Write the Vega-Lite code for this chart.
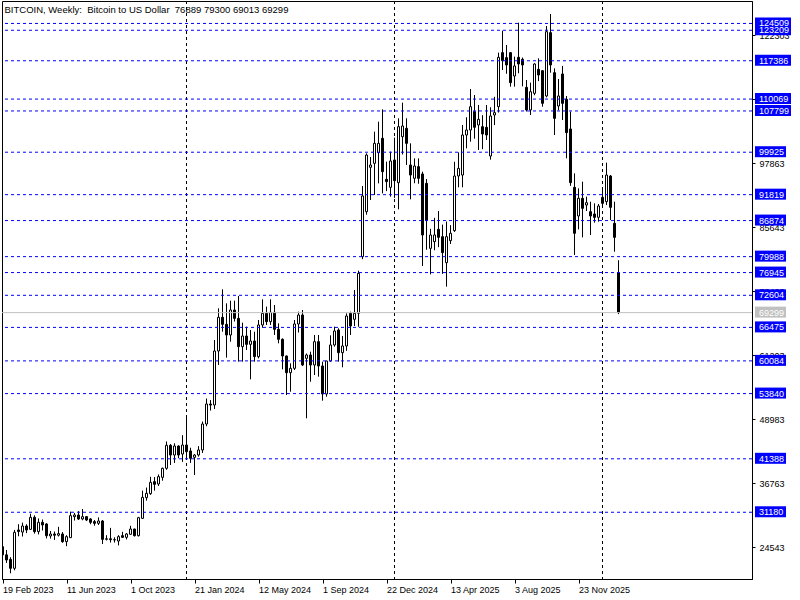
{
"$schema":"https://vega.github.io/schema/vega-lite/v6.json",
"width":750,"height":578,
"autosize":{"type":"none"},
"padding":{"left":2,"top":1,"right":48,"bottom":21},
"background":"white",
"title":{"text":"BITCOIN, Weekly:\u00a0 Bitcoin to US Dollar\u00a0 76889 79300 69013 69299","anchor":"start","offset":-14,"dx":3,"fontSize":9.5,"font":"Liberation Sans","fontWeight":"normal","color":"black"},
"config":{"font":"Liberation Sans","view":{"stroke":"black","strokeWidth":1},"axis":{"grid":false,"domainColor":"black","tickColor":"black","labelColor":"black","labelFont":"Liberation Sans","labelFontSize":9,"title":null}},
"datasets":{
"candles":[
{"d":"2023-02-19","o":24600,"h":25200,"l":22900,"c":23050},
{"d":"2023-02-26","o":23050,"h":23980,"l":21500,"c":22070},
{"d":"2023-03-05","o":22190,"h":22600,"l":19520,"c":20480},
{"d":"2023-03-12","o":20480,"h":27800,"l":20100,"c":27350},
{"d":"2023-03-19","o":27800,"h":28900,"l":26600,"c":27500},
{"d":"2023-03-26","o":27400,"h":29200,"l":26550,"c":28560},
{"d":"2023-04-02","o":28560,"h":28900,"l":27200,"c":27800},
{"d":"2023-04-09","o":27920,"h":30900,"l":27800,"c":30210},
{"d":"2023-04-16","o":30210,"h":30600,"l":27100,"c":27480},
{"d":"2023-04-23","o":27480,"h":30000,"l":26950,"c":29260},
{"d":"2023-04-30","o":29260,"h":29800,"l":27700,"c":28750},
{"d":"2023-05-07","o":28940,"h":29100,"l":26200,"c":26710},
{"d":"2023-05-14","o":26650,"h":27600,"l":26150,"c":27030},
{"d":"2023-05-21","o":27030,"h":27500,"l":25900,"c":26800},
{"d":"2023-05-28","o":26800,"h":28400,"l":26550,"c":27100},
{"d":"2023-06-04","o":27030,"h":27400,"l":25350,"c":25570},
{"d":"2023-06-11","o":25570,"h":26800,"l":24700,"c":26520},
{"d":"2023-06-18","o":26330,"h":31300,"l":26300,"c":30530},
{"d":"2023-06-25","o":30340,"h":31050,"l":29600,"c":30660},
{"d":"2023-07-02","o":30660,"h":31400,"l":29700,"c":29900},
{"d":"2023-07-09","o":29900,"h":31800,"l":29650,"c":30340},
{"d":"2023-07-16","o":30340,"h":30450,"l":29500,"c":29700},
{"d":"2023-07-23","o":29900,"h":30050,"l":28900,"c":29260},
{"d":"2023-07-30","o":29390,"h":29700,"l":28600,"c":29070},
{"d":"2023-08-06","o":29070,"h":30200,"l":28750,"c":29510},
{"d":"2023-08-13","o":29510,"h":29700,"l":25120,"c":26010},
{"d":"2023-08-20","o":26010,"h":26800,"l":25800,"c":26120},
{"d":"2023-08-27","o":26120,"h":28200,"l":25400,"c":25950},
{"d":"2023-09-03","o":25950,"h":26400,"l":25400,"c":25900},
{"d":"2023-09-10","o":25690,"h":26800,"l":24850,"c":26520},
{"d":"2023-09-17","o":26710,"h":27450,"l":26350,"c":26390},
{"d":"2023-09-24","o":26390,"h":27200,"l":26000,"c":27030},
{"d":"2023-10-01","o":26970,"h":28600,"l":26900,"c":27980},
{"d":"2023-10-08","o":27980,"h":28050,"l":26550,"c":26710},
{"d":"2023-10-15","o":26710,"h":30300,"l":26550,"c":30150},
{"d":"2023-10-22","o":30020,"h":35300,"l":29900,"c":34030},
{"d":"2023-10-29","o":33970,"h":35900,"l":33400,"c":34800},
{"d":"2023-11-05","o":34730,"h":37950,"l":34500,"c":36890},
{"d":"2023-11-12","o":37020,"h":37900,"l":35300,"c":36510},
{"d":"2023-11-19","o":36580,"h":38400,"l":36200,"c":37980},
{"d":"2023-11-26","o":37850,"h":39700,"l":37200,"c":39570},
{"d":"2023-12-03","o":39570,"h":44700,"l":39300,"c":43960},
{"d":"2023-12-10","o":43960,"h":44200,"l":40200,"c":42110},
{"d":"2023-12-17","o":42110,"h":44350,"l":40600,"c":43830},
{"d":"2023-12-24","o":43830,"h":43950,"l":41500,"c":42110},
{"d":"2023-12-31","o":42300,"h":45900,"l":40800,"c":44020},
{"d":"2024-01-07","o":44020,"h":49500,"l":41500,"c":42750},
{"d":"2024-01-14","o":42880,"h":43500,"l":40600,"c":41480},
{"d":"2024-01-21","o":41670,"h":42300,"l":38300,"c":42110},
{"d":"2024-01-28","o":42110,"h":43800,"l":41800,"c":43070},
{"d":"2024-02-04","o":43070,"h":48500,"l":42500,"c":48030},
{"d":"2024-02-11","o":48030,"h":52900,"l":47600,"c":51850},
{"d":"2024-02-18","o":51850,"h":52600,"l":50600,"c":51650},
{"d":"2024-02-25","o":51660,"h":64070,"l":50900,"c":61970},
{"d":"2024-03-03","o":61970,"h":70120,"l":59300,"c":68400},
{"d":"2024-03-10","o":68400,"h":73750,"l":65660,"c":67060},
{"d":"2024-03-17","o":67060,"h":71070,"l":60700,"c":65030},
{"d":"2024-03-24","o":65030,"h":71580,"l":63750,"c":69800},
{"d":"2024-03-31","o":69800,"h":71580,"l":67600,"c":68200},
{"d":"2024-04-07","o":68200,"h":72470,"l":59930,"c":62800},
{"d":"2024-04-14","o":62800,"h":67380,"l":59930,"c":64830},
{"d":"2024-04-21","o":64830,"h":66620,"l":62160,"c":63240},
{"d":"2024-04-28","o":63240,"h":65980,"l":56560,"c":63880},
{"d":"2024-05-05","o":63880,"h":65660,"l":59930,"c":60890},
{"d":"2024-05-12","o":60890,"h":67890,"l":60570,"c":66940},
{"d":"2024-05-19","o":66940,"h":71840,"l":66400,"c":69160},
{"d":"2024-05-26","o":69160,"h":70440,"l":66940,"c":67570},
{"d":"2024-06-02","o":67570,"h":71840,"l":66940,"c":69350},
{"d":"2024-06-09","o":69350,"h":70750,"l":65030,"c":66110},
{"d":"2024-06-16","o":66110,"h":67250,"l":63430,"c":64200},
{"d":"2024-06-23","o":64200,"h":64390,"l":58470,"c":61020},
{"d":"2024-06-30","o":61020,"h":61100,"l":53570,"c":57830},
{"d":"2024-07-07","o":57830,"h":59620,"l":54200,"c":58660},
{"d":"2024-07-14","o":58660,"h":67890,"l":58340,"c":67130},
{"d":"2024-07-21","o":67130,"h":69480,"l":65500,"c":68840},
{"d":"2024-07-28","o":68840,"h":69800,"l":59100,"c":59300},
{"d":"2024-08-04","o":60570,"h":61500,"l":49120,"c":61210},
{"d":"2024-08-11","o":61210,"h":61840,"l":56110,"c":59300},
{"d":"2024-08-18","o":59300,"h":65030,"l":57390,"c":63750},
{"d":"2024-08-25","o":63750,"h":65030,"l":57070,"c":59110},
{"d":"2024-09-01","o":59110,"h":59930,"l":52490,"c":53760},
{"d":"2024-09-08","o":53760,"h":60100,"l":53250,"c":60060},
{"d":"2024-09-15","o":60060,"h":64960,"l":59930,"c":63120},
{"d":"2024-09-22","o":63120,"h":66620,"l":62800,"c":65790},
{"d":"2024-09-29","o":65980,"h":66300,"l":59930,"c":61650},
{"d":"2024-10-06","o":61650,"h":64840,"l":58850,"c":62930},
{"d":"2024-10-13","o":62930,"h":69160,"l":62000,"c":68650},
{"d":"2024-10-20","o":69160,"h":69480,"l":65030,"c":66740},
{"d":"2024-10-27","o":68020,"h":73620,"l":66740,"c":69160},
{"d":"2024-11-03","o":69170,"h":77300,"l":66600,"c":76800},
{"d":"2024-11-10","o":79980,"h":93470,"l":79500,"c":91570},
{"d":"2024-11-17","o":88570,"h":99700,"l":88000,"c":99390},
{"d":"2024-11-24","o":97040,"h":99000,"l":90800,"c":97480},
{"d":"2024-12-01","o":97800,"h":103850,"l":91760,"c":101620},
{"d":"2024-12-08","o":99840,"h":105750,"l":93980,"c":101620},
{"d":"2024-12-15","o":102580,"h":108110,"l":92070,"c":96210},
{"d":"2024-12-22","o":94750,"h":98120,"l":92500,"c":94300},
{"d":"2024-12-29","o":93220,"h":100030,"l":91440,"c":98250},
{"d":"2025-01-05","o":98440,"h":102700,"l":91200,"c":94490},
{"d":"2025-01-12","o":94110,"h":106400,"l":89020,"c":104800},
{"d":"2025-01-19","o":102890,"h":109380,"l":99500,"c":104930},
{"d":"2025-01-26","o":104480,"h":106400,"l":97480,"c":101620},
{"d":"2025-02-02","o":97480,"h":101620,"l":90930,"c":95570},
{"d":"2025-02-09","o":94940,"h":98750,"l":94000,"c":97290},
{"d":"2025-02-16","o":97170,"h":98750,"l":93900,"c":94940},
{"d":"2025-02-23","o":95770,"h":96200,"l":78200,"c":84120},
{"d":"2025-03-02","o":93980,"h":94800,"l":81300,"c":86980},
{"d":"2025-03-09","o":81570,"h":85300,"l":76600,"c":84120},
{"d":"2025-03-16","o":82850,"h":87400,"l":81200,"c":84120},
{"d":"2025-03-23","o":85200,"h":88700,"l":81800,"c":83670},
{"d":"2025-03-30","o":83800,"h":86100,"l":76700,"c":80750},
{"d":"2025-04-06","o":78840,"h":86700,"l":74250,"c":83800},
{"d":"2025-04-13","o":83040,"h":86000,"l":82400,"c":84440},
{"d":"2025-04-20","o":84950,"h":98100,"l":84700,"c":95380},
{"d":"2025-04-27","o":95380,"h":99900,"l":93220,"c":96840},
{"d":"2025-05-04","o":95570,"h":105120,"l":93220,"c":103210},
{"d":"2025-05-11","o":103210,"h":106600,"l":100660,"c":104170},
{"d":"2025-05-18","o":104170,"h":111990,"l":101940,"c":108620},
{"d":"2025-05-25","o":107670,"h":110850,"l":102500,"c":104680},
{"d":"2025-06-01","o":105120,"h":108940,"l":100350,"c":106200},
{"d":"2025-06-08","o":104800,"h":107000,"l":100500,"c":103400},
{"d":"2025-06-15","o":104680,"h":108940,"l":102260,"c":103210},
{"d":"2025-06-22","o":99200,"h":108500,"l":98500,"c":106840},
{"d":"2025-06-29","o":107030,"h":110500,"l":105100,"c":107480},
{"d":"2025-07-06","o":108620,"h":118930,"l":107500,"c":118040},
{"d":"2025-07-13","o":118930,"h":123130,"l":115620,"c":117400},
{"d":"2025-07-20","o":117980,"h":120400,"l":114900,"c":116580},
{"d":"2025-07-27","o":118930,"h":118950,"l":112440,"c":113200},
{"d":"2025-08-03","o":114470,"h":118170,"l":112440,"c":116390},
{"d":"2025-08-10","o":118040,"h":124660,"l":115000,"c":116770},
{"d":"2025-08-17","o":117660,"h":118000,"l":112500,"c":116580},
{"d":"2025-08-24","o":112310,"h":113700,"l":107700,"c":107990},
{"d":"2025-08-31","o":107990,"h":113200,"l":107030,"c":111480},
{"d":"2025-09-07","o":111170,"h":116900,"l":110800,"c":116770},
{"d":"2025-09-14","o":115750,"h":117850,"l":113500,"c":114670},
{"d":"2025-09-21","o":115490,"h":115500,"l":108620,"c":109260},
{"d":"2025-09-28","o":110660,"h":124020,"l":110400,"c":122940},
{"d":"2025-10-05","o":122750,"h":126310,"l":115100,"c":116580},
{"d":"2025-10-12","o":115110,"h":115940,"l":103210,"c":106390},
{"d":"2025-10-19","o":108750,"h":113900,"l":107950,"c":110660},
{"d":"2025-10-26","o":114860,"h":116400,"l":106080,"c":109260},
{"d":"2025-11-02","o":110020,"h":110660,"l":98760,"c":103660},
{"d":"2025-11-09","o":104360,"h":107670,"l":93500,"c":94110},
{"d":"2025-11-16","o":93220,"h":95890,"l":80300,"c":84440},
{"d":"2025-11-23","o":87750,"h":93030,"l":85200,"c":91120},
{"d":"2025-11-30","o":91120,"h":94300,"l":83670,"c":89210},
{"d":"2025-12-07","o":89840,"h":91440,"l":88700,"c":90290},
{"d":"2025-12-14","o":88570,"h":90480,"l":84120,"c":87750},
{"d":"2025-12-21","o":88130,"h":90160,"l":86470,"c":87490},
{"d":"2025-12-28","o":87490,"h":90030,"l":86660,"c":89650},
{"d":"2026-01-04","o":91310,"h":93030,"l":89500,"c":90160},
{"d":"2026-01-11","o":90480,"h":97930,"l":89840,"c":95570},
{"d":"2026-01-18","o":95380,"h":95570,"l":86980,"c":89400},
{"d":"2026-01-25","o":86350,"h":90480,"l":80930,"c":83670},
{"d":"2026-02-01","o":76889,"h":79300,"l":69013,"c":69299}
],
"levels":[{"p":31180},{"p":41388},{"p":53840},{"p":60084},{"p":66475},{"p":72604},{"p":76945},{"p":79988},{"p":86874},{"p":91819},{"p":99925},{"p":107799},{"p":110069},{"p":117386},{"p":123209},{"p":124509}],
"bid":[{"p":69299}],
"seps":[{"d":"2024-01-07"},{"d":"2025-01-05"},{"d":"2026-01-04"}]
},
"layer":[
{"data":{"name":"candles"},"mark":{"type":"rule","color":"black","strokeWidth":1,"clip":true},
 "encoding":{
  "x":{"field":"d","type":"temporal","scale":{"type":"utc","domain":[1676689200000,1790089200000],"padding":0,"nice":false},
   "axis":{"orient":"bottom","values":[1676764800000,1686441600000,1696118400000,1705795200000,1715472000000,1725148800000,1734825600000,1744502400000,1754179200000,1763856000000],"format":"%-d %b %Y","tickSize":4,"labelAlign":"left","labelBaseline":"top","labelPadding":2,"labelOverlap":false,"labelFlush":false}},
  "y":{"field":"l","type":"quantitative","scale":{"domain":[18438,128795],"nice":false,"zero":false,"padding":0},
   "axis":{"orient":"right","values":[128413,122303,116193,110083,103973,97863,91753,85643,79533,73423,67313,61203,55093,48983,42873,36763,30653,24543],"format":"d","tickSize":3,"labelPadding":4,"labelAlign":"left","labelBaseline":"middle","labelOverlap":false,"labelFlush":false}},
  "y2":{"field":"h"}}},
{"data":{"name":"seps"},"mark":{"type":"rule","color":"black","strokeWidth":1,"strokeDash":[3,3]},
 "encoding":{"x":{"field":"d","type":"temporal"}}},
{"data":{"name":"candles"},"mark":{"type":"bar","size":2,"stroke":"black","strokeWidth":1,"clip":true},
 "encoding":{
  "x":{"field":"d","type":"temporal"},
  "y":{"field":"o","type":"quantitative"},
  "y2":{"field":"c"},
  "fill":{"condition":{"test":"datum.c >= datum.o","value":"white"},"value":"black"}}},
{"data":{"name":"levels"},"mark":{"type":"rule","color":"#0000ff","strokeWidth":1,"strokeDash":[3,3]},
 "encoding":{"y":{"field":"p","type":"quantitative"}}},
{"data":{"name":"bid"},"mark":{"type":"rule","color":"#c0c0c0","strokeWidth":1},
 "encoding":{"y":{"field":"p","type":"quantitative"}}},
{"data":{"name":"levels"},"transform":[{"filter":"datum.p >= 100000"}],
 "mark":{"type":"rect","color":"#0000ff","xOffset":3,"x2Offset":39,"yOffset":-6,"y2Offset":5},
 "encoding":{"x":{"value":"width"},"x2":{"value":"width"},
  "y":{"field":"p","type":"quantitative"},"y2":{"field":"p"}}},
{"data":{"name":"levels"},"transform":[{"filter":"datum.p < 100000"}],
 "mark":{"type":"rect","color":"#0000ff","xOffset":3,"x2Offset":34,"yOffset":-6,"y2Offset":5},
 "encoding":{"x":{"value":"width"},"x2":{"value":"width"},
  "y":{"field":"p","type":"quantitative"},"y2":{"field":"p"}}},
{"data":{"name":"bid"},
 "mark":{"type":"rect","color":"#c0c0c0","xOffset":3,"x2Offset":34,"yOffset":-6,"y2Offset":5},
 "encoding":{"x":{"value":"width"},"x2":{"value":"width"},
  "y":{"field":"p","type":"quantitative"},"y2":{"field":"p"}}},
{"data":{"name":"levels"},
 "mark":{"type":"text","align":"left","baseline":"middle","dx":7,"color":"white","fontSize":9,"font":"Liberation Sans"},
 "encoding":{"x":{"value":"width"},
  "y":{"field":"p","type":"quantitative"},
  "text":{"field":"p","type":"quantitative","format":"d"}}},
{"data":{"name":"bid"},
 "mark":{"type":"text","align":"left","baseline":"middle","dx":7,"color":"white","fontSize":9,"font":"Liberation Sans"},
 "encoding":{"x":{"value":"width"},
  "y":{"field":"p","type":"quantitative"},
  "text":{"field":"p","type":"quantitative","format":"d"}}}
]
}
